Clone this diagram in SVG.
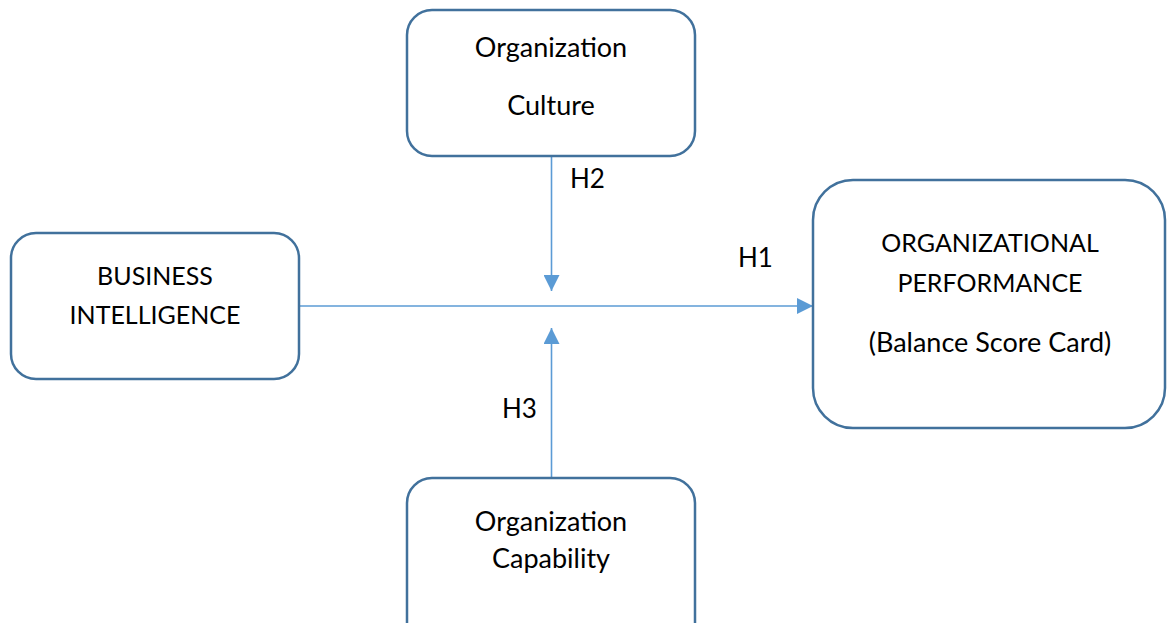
<svg xmlns="http://www.w3.org/2000/svg" width="1167" height="623" viewBox="0 0 1167 623">
  <style>
    .box { fill: #ffffff; stroke: #41719C; stroke-width: 2.5; }
    .lbl { font-family: Lato, "Liberation Sans", sans-serif; font-size: 27px; fill: #000000; text-anchor: middle; }
    .caps { font-size: 25px; }
    .hyp { font-family: Lato, "Liberation Sans", sans-serif; font-size: 26px; fill: #000000; }
    .link { stroke: #5B9BD5; stroke-width: 1.6; fill: none; marker-end: url(#arrow); }
  </style>
  <defs>
    <marker id="arrow" markerUnits="userSpaceOnUse" markerWidth="16" markerHeight="16" viewBox="0 0 16 16" refX="16" refY="8" orient="auto">
      <path d="M0,0 L16,8 L0,16 z" fill="#5B9BD5"/>
    </marker>
  </defs>
  <rect width="1167" height="623" fill="#ffffff"/>

  <g id="connectors">
    <line class="link" x1="299" y1="306" x2="813" y2="306"/>
    <line class="link" x1="551.5" y1="156" x2="551.5" y2="291"/>
    <line class="link" x1="551.5" y1="478" x2="551.5" y2="328"/>
    <text class="hyp" x="570" y="188">H2</text>
    <text class="hyp" x="738" y="267">H1</text>
    <text class="hyp" x="502" y="418">H3</text>
  </g>

  <g id="org-culture">
    <rect class="box" x="407" y="10" width="288" height="146" rx="25"/>
    <text class="lbl" x="551" y="57">Organization</text>
    <text class="lbl" x="551" y="115">Culture</text>
  </g>

  <g id="business-intelligence">
    <rect class="box" x="11" y="233" width="288" height="146" rx="25"/>
    <text class="lbl caps" x="155" y="285">BUSINESS</text>
    <text class="lbl caps" x="155" y="324">INTELLIGENCE</text>
  </g>

  <g id="org-performance">
    <rect class="box" x="813" y="180" width="352" height="248" rx="40"/>
    <text class="lbl caps" x="990" y="252">ORGANIZATIONAL</text>
    <text class="lbl caps" x="990" y="292">PERFORMANCE</text>
    <text class="lbl" x="990" y="352">(Balance Score Card)</text>
  </g>

  <g id="org-capability">
    <rect class="box" x="407" y="478" width="288" height="170" rx="25"/>
    <text class="lbl" x="551" y="531">Organization</text>
    <text class="lbl" x="551" y="568">Capability</text>
  </g>
</svg>
